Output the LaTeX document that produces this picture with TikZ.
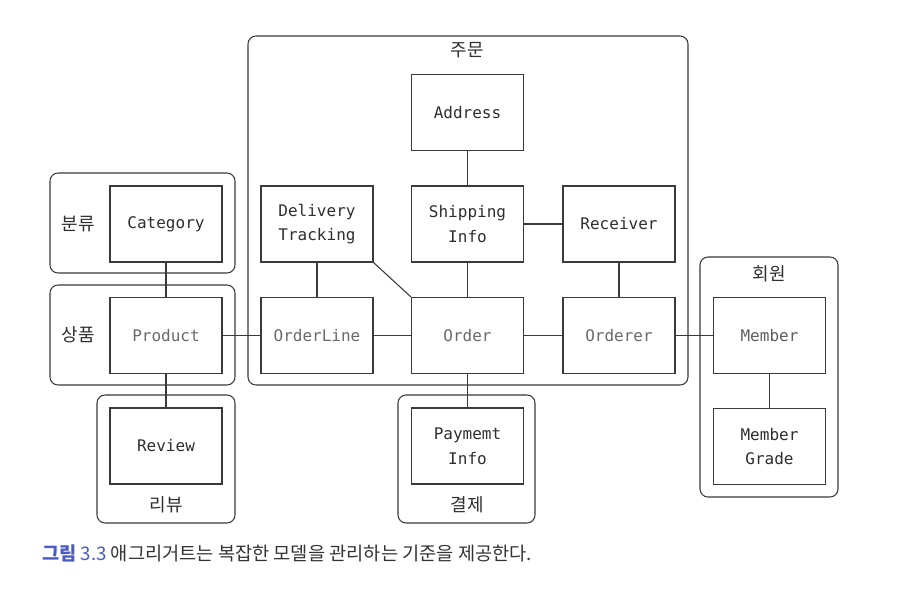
\documentclass[tikz,border=0pt]{standalone}
\usepackage{fontspec}
\usepackage{graphicx}
\setmonofont{DejaVu Sans Mono}
\newfontfamily\krfont{Noto Sans CJK KR}
\definecolor{ln}{HTML}{3A3A3A}
\definecolor{tx}{HTML}{2E2E2E}
\definecolor{txl}{HTML}{6A6A6A}
\definecolor{capblue}{HTML}{4A5CC4}
\definecolor{captx}{HTML}{333333}
\begin{document}
\begin{tikzpicture}[x=0.75pt,y=-0.75pt,
  ent/.style={draw=ln,line width=0.9pt,fill=white,minimum width=84pt,minimum height=57pt,
    align=center,inner sep=0pt,text=tx,font=\ttfamily\fontsize{12}{18.5}\selectfont},
  entl/.style={ent,text=txl},
  grp/.style={draw=ln,line width=0.8pt,rounded corners=6pt,inner sep=0pt},
  glab/.style={text=tx,font=\krfont\fontsize{13.5}{16}\selectfont,inner sep=0pt},
  conn/.style={draw=ln,line width=0.8pt}]
\useasboundingbox[fill=white] (0,0) rectangle (900,592);
% group boxes
\node[grp,minimum width=138.75pt,minimum height=75pt] (gcat) at (142.5,223) {};
\node[grp,minimum width=138.75pt,minimum height=75pt] (gprod) at (142.5,335) {};
\node[grp,minimum width=103.5pt,minimum height=96pt] (grev) at (166,459) {};
\node[grp,minimum width=330pt,minimum height=261.75pt] (gord) at (468,210.5) {};
\node[grp,minimum width=102.75pt,minimum height=96pt] (gpay) at (466.5,459) {};
\node[grp,minimum width=103.5pt,minimum height=180pt] (gmem) at (769,377) {};
% group labels
\node[glab] (lcat) at (78,224) {분류};
\node[glab] (lprod) at (78,335) {상품};
\node[glab] (lrev) at (166,505) {리뷰};
\node[glab] (lord) at (467,50) {주문};
\node[glab] (lpay) at (467,505) {결제};
\node[glab] (lmem) at (769,274) {회원};
% entities
\node[ent] (cat) at (166,224) {Category};
\node[entl] (prod) at (166,335.5) {Product};
\node[ent] (rev) at (166,446) {Review};
\node[ent] (del) at (317,224) {Delivery\\Tracking};
\node[entl] (ol) at (317,335.5) {OrderLine};
\node[ent] (addr) at (467.5,112.5) {Address};
\node[ent] (ship) at (467.5,224) {Shipping\\Info};
\node[entl] (order) at (467.5,335.5) {Order};
\node[ent] (pay) at (467.5,446) {Paymemt\\Info};
\node[ent] (recv) at (619,224) {Receiver};
\node[entl] (orderer) at (619,335.5) {Orderer};
\node[ent,text=txl!80!tx] (mem) at (769.5,335.5) {Member};
\node[ent] (mgrade) at (769.5,446.5) {Member\\Grade};
% connectors
\draw[conn] (cat) -- (prod);
\draw[conn] (prod) -- (rev);
\draw[conn] (prod) -- (ol);
\draw[conn] (ol) -- (order);
\draw[conn] (order) -- (orderer);
\draw[conn] (orderer) -- (mem);
\draw[conn] (mem) -- (mgrade);
\draw[conn] (del) -- (ol);
\draw[conn] (del.south east) -- (order.north west);
\draw[conn] (addr) -- (ship);
\draw[conn] (ship) -- (order);
\draw[conn] (ship) -- (recv);
\draw[conn] (recv) -- (orderer);
\draw[conn] (order) -- (pay);
% caption
\node[anchor=west,inner sep=0pt,font=\krfont\fontsize{14}{16}\selectfont,text=captx] (cap) at (42,553)
  {\textcolor{capblue}{\bfseries 그림\mdseries{} 3.3} 애그리거트는 복잡한 모델을 관리하는 기준을 제공한다.};
\end{tikzpicture}
\end{document}
